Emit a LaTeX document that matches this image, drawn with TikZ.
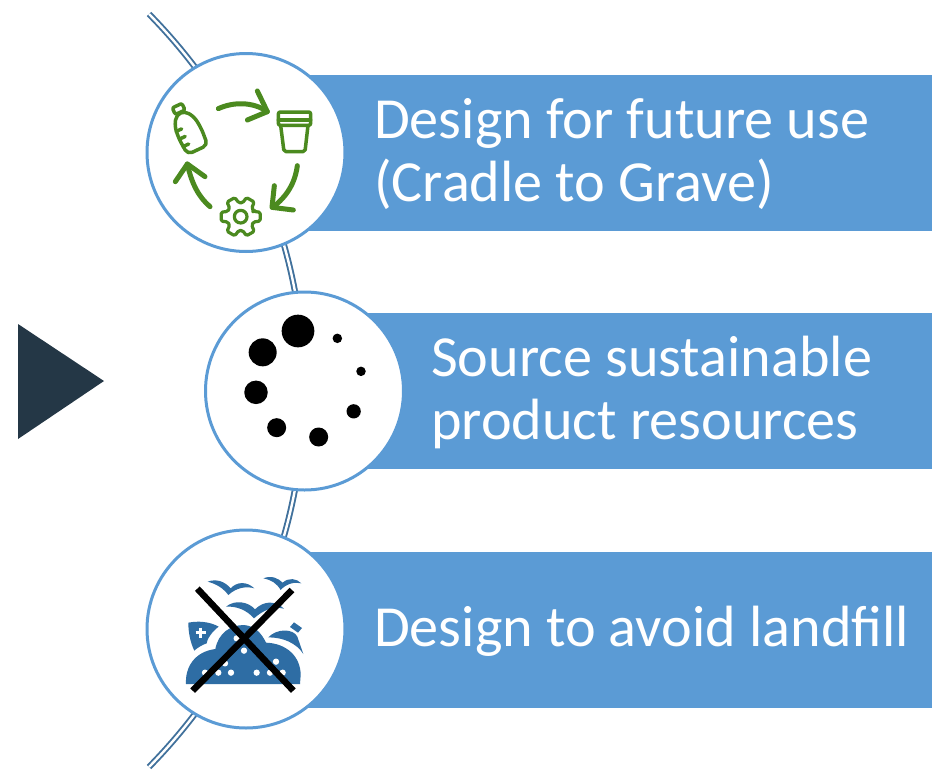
\documentclass[tikz,border=0pt]{standalone}
\usepackage{fontspec}
\usetikzlibrary{calc}
\setmainfont{Carlito}
\definecolor{barblue}{HTML}{5B9BD5}
\definecolor{arcblue}{HTML}{41719C}
\definecolor{darktri}{HTML}{243746}
\definecolor{icongreen}{HTML}{4B8A1F}
\definecolor{iconblue}{HTML}{2E6DA4}
\tikzset{
  bar/.style={fill=barblue,draw=none,minimum width=687pt,minimum height=156pt,anchor=west,inner sep=0pt},
  disc/.style={circle,fill=white,draw=barblue,line width=3pt,minimum size=198pt,inner sep=0pt},
  label/.style={text=white,font=\fontsize{58.2}{63}\selectfont,anchor=west,align=left,inner sep=0pt},
  spine/.style={draw=arcblue,line width=1.9pt,double=white,double distance=2.4pt},
  greenline/.style={draw=icongreen,line width=3.5pt,line cap=round,line join=round},
  greenarrow/.style={draw=icongreen,line width=5pt,line cap=round,line join=round},
  dotA/.style={circle,fill=black,draw=none,inner sep=0pt,minimum size=#1},
  wdot/.style={circle,fill=white,draw=none,inner sep=0pt,minimum size=#1},
  bird/.style={fill=iconblue,draw=none},
  crossline/.style={draw=black,line width=6.5pt},
  icon/.style={shift={(#1)},x=0.33333pt,y=-0.33333pt}
}
\begin{document}
\begin{tikzpicture}[x=1pt,y=-1pt]
\useasboundingbox (0,0) rectangle (932,769);
% spine
\coordinate (arcstart) at (149,14);
\coordinate (arcend) at (149,767);
\draw[spine] (arcstart) .. controls (356,224.7) and (356,556.3) .. (arcend);
% triangle
\fill[darktri] (18,324) -- (104,381) -- (18,439) -- cycle;
% bars
\node[bar] (bar1) at (245,153) {};
\node[bar,minimum width=628pt] (bar2) at (304,391) {};
\node[bar] (bar3) at (245,630) {};
% discs
\node[disc] (disc1) at (246,152.5) {};
\node[disc] (disc2) at (304.5,391) {};
\node[disc] (disc3) at (246,629) {};
% labels
\node[label] (text1) at (374,154.5) {Design for future use\\(Cradle to Grave)};
\node[label] (text2) at (431,392.5) {Source sustainable\\product resources};
\node[label] (text3) at (374,631.5) {Design to avoid landfill};
% recycle icon
\begin{scope}[icon={140,0}]
  % arrows
  \draw[greenarrow] (235,326) .. controls (280,305) and (340,305) .. (382,335);
  \draw[greenarrow] (352,273) -- (382,335) -- (322,360);
  \draw[greenarrow] (472,497) .. controls (465,550) and (440,590) .. (398,622);
  \draw[greenarrow] (403,557) -- (396,622) -- (460,630);
  \draw[greenarrow] (210,620) .. controls (175,590) and (155,550) .. (142,492);
  \draw[greenarrow] (106,545) -- (142,492) -- (195,530);
  % cup
  \draw[greenline,rounded corners=2pt] (415,336) rectangle (512,376);
  \draw[greenline] (415,360) -- (512,360);
  \draw[greenline,rounded corners=2pt] (422,376) -- (432,455) -- (495,455) -- (504,376);
  % gear
  \draw[greenline,line width=3.2pt,rounded corners=1.5pt]
    (302,650) ++(-22:44)
    \foreach \a in {0,60,...,300}{
      -- ($(302,650)+(\a-22:42)$) -- ($(302,650)+(\a-13:60)$) -- ($(302,650)+(\a+13:60)$) -- ($(302,650)+(\a+22:42)$)
    } -- cycle;
  \draw[greenline,line width=3.2pt] (302,650) circle[radius=19];
\end{scope}
% bottle
\begin{scope}[shift={(187.5,128)},rotate=25,x=0.33333pt,y=-0.33333pt]
  \draw[greenline,rounded corners=5pt] (-33,72) -- (33,72) -- (37,20) -- (33,-20) -- (14,-50) -- (-14,-50) -- (-33,-20) -- (-37,20) -- cycle;
  \draw[greenline,rounded corners=2pt] (-16,-74) rectangle (16,-52);
  \draw[greenline] (-35,-5) -- (-17,-5) (-35,20) -- (-17,20) (-35,45) -- (-17,45);
\end{scope}
% dots
\begin{scope}[icon={200,230}]
  \node[dotA=32.7pt] (d1) at (294,303) {};
  \node[dotA=28pt] (d2) at (188,367) {};
  \node[dotA=23.5pt] (d3) at (168,487) {};
  \node[dotA=19pt] (d4) at (230,593) {};
  \node[dotA=19pt] (d5) at (356,621) {};
  \node[dotA=14.3pt] (d6) at (461,544) {};
  \node[dotA=9.5pt] (d7) at (483,424) {};
  \node[dotA=9.5pt] (d8) at (412,325) {};
\end{scope}
% landfill icon
\begin{scope}[icon={140,500}]
  \fill[iconblue] (138,552) .. controls (135,500) and (165,455) .. (226,447)
     .. controls (235,400) and (270,375) .. (312,375)
     .. controls (345,378) and (365,400) .. (378,428)
     .. controls (440,430) and (482,470) .. (482,525) -- (480,552) -- cycle;
  \fill[iconblue] (145,368) .. controls (175,362) and (210,365) .. (236,380)
     .. controls (215,395) and (200,420) .. (200,430)
     .. controls (185,435) and (170,445) .. (163,452)
     .. controls (150,425) and (145,395) .. (145,368) -- cycle;
  \fill[iconblue] (385,412) .. controls (410,385) and (460,385) .. (472,410)
     -- (490,462) .. controls (470,430) and (430,412) .. (385,412) -- cycle;
  \fill[iconblue] (462,367) -- (486,384) -- (474,398) -- (450,381) -- cycle;
  \draw[white,line width=2.4pt] (182,383) -- (182,413) (167,398) -- (197,398);
  % birds
  \fill[bird] (203,245) .. controls (230,235) and (255,245) .. (272,265)
     .. controls (290,245) and (320,243) .. (343,265)
     .. controls (320,258) and (290,262) .. (265,285)
     .. controls (250,265) and (230,252) .. (203,245) -- cycle;
  \fill[bird] (370,235) .. controls (395,225) and (415,235) .. (428,248)
     .. controls (445,232) and (470,235) .. (484,250)
     .. controls (465,245) and (440,250) .. (422,270)
     .. controls (410,250) and (395,240) .. (370,235) -- cycle;
  \fill[bird] (258,320) .. controls (285,298) and (325,305) .. (345,328)
     .. controls (370,303) and (405,300) .. (432,326)
     .. controls (400,318) and (370,330) .. (342,355)
     .. controls (320,330) and (290,318) .. (258,320) -- cycle;
  % white dots
  \foreach \p in {(195,518),(235,518),(273,518),(350,518),(390,518),(428,518),(408,485),(312,452),(290,415),(255,490)}
    \node[wdot=6.3pt] at \p {};
  % cross
  \coordinate (xa) at (172,266);
  \coordinate (xb) at (460,572);
  \coordinate (xc) at (456,270);
  \coordinate (xd) at (158,572);
  \draw[crossline] (xa) -- (xb);
  \draw[crossline] (xc) -- (xd);
\end{scope}
\end{tikzpicture}
\end{document}
